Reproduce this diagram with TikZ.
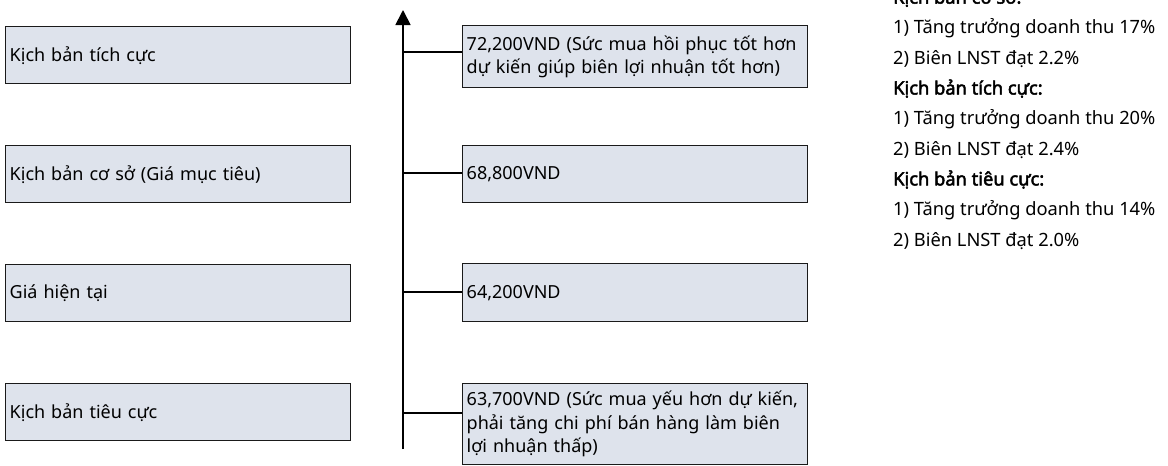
\documentclass[tikz,border=0pt]{standalone}
\usepackage{fontspec}
\setmainfont{Noto Sans}[BoldFont={Noto Sans}, BoldFeatures={FakeBold=2.5}]
\usetikzlibrary{arrows.meta}
\definecolor{boxfill}{HTML}{DEE3EC}
\definecolor{boxline}{HTML}{1A1A1A}
\tikzset{
  scenbox/.style={draw=boxline, line width=1.4pt, fill=boxfill, rectangle,
    anchor=north west, inner xsep=4pt, inner ysep=0pt, align=left,
    font=\fontsize{18}{23.5}\selectfont},
  link/.style={line width=1.4pt, draw=black},
  axisline/.style={line width=1.8pt, -{Triangle[width=15pt,length=15pt]}},
  notes/.style={anchor=base west, align=left, inner sep=0pt,
    font=\fontsize{18.3}{30.3}\selectfont}
}
\begin{document}
\begin{tikzpicture}[x=1pt,y=-1pt]
\useasboundingbox (0,0) rectangle (1168,466);
% left boxes
\node[scenbox, text width=337pt, minimum height=57pt] (L1) at (5,26) {Kịch bản tích cực};
\node[scenbox, text width=337pt, minimum height=57pt] (L2) at (5,145) {Kịch bản cơ sở (Giá mục tiêu)};
\node[scenbox, text width=337pt, minimum height=57pt] (L3) at (5,264) {Giá hiện tại};
\node[scenbox, text width=337pt, minimum height=57pt] (L4) at (5,383) {Kịch bản tiêu cực};
% right boxes
\node[scenbox, text width=337pt, minimum height=62pt] (R1) at (462,25) {72,200VND (Sức mua hồi phục tốt hơn\\dự kiến giúp biên lợi nhuận tốt hơn)};
\node[scenbox, text width=337pt, minimum height=57pt] (R2) at (462,145) {68,800VND};
\node[scenbox, text width=337pt, minimum height=58pt] (R3) at (462,263) {64,200VND};
\node[scenbox, text width=337pt, minimum height=81pt] (R4) at (462,383) {63,700VND (Sức mua yếu hơn dự kiến,\\phải tăng chi phí bán hàng làm biên\\lợi nhuận thấp)};
% axis
\coordinate (ab) at (403,449);
\coordinate (at) at (403,10);
\draw[axisline] (ab) -- (at);
\coordinate (c1) at (403,52);
\coordinate (c2) at (403,173);
\coordinate (c3) at (403,292);
\coordinate (c4) at (403,413);
\draw[link] (c1) -- (c1 -| R1.west);
\draw[link] (c2) -- (c2 -| R2.west);
\draw[link] (c3) -- (c3 -| R3.west);
\draw[link] (c4) -- (c4 -| R4.west);
% notes (base anchor = last line)
\node[notes] (N) at (893,246) {\textbf{Kịch bản cơ sở:}\\
1) Tăng trưởng doanh thu 17\%\\
2) Biên LNST đạt 2.2\%\\
\textbf{Kịch bản tích cực:}\\
1) Tăng trưởng doanh thu 20\%\\
2) Biên LNST đạt 2.4\%\\
\textbf{Kịch bản tiêu cực:}\\
1) Tăng trưởng doanh thu 14\%\\
2) Biên LNST đạt 2.0\%};
\end{tikzpicture}
\end{document}
